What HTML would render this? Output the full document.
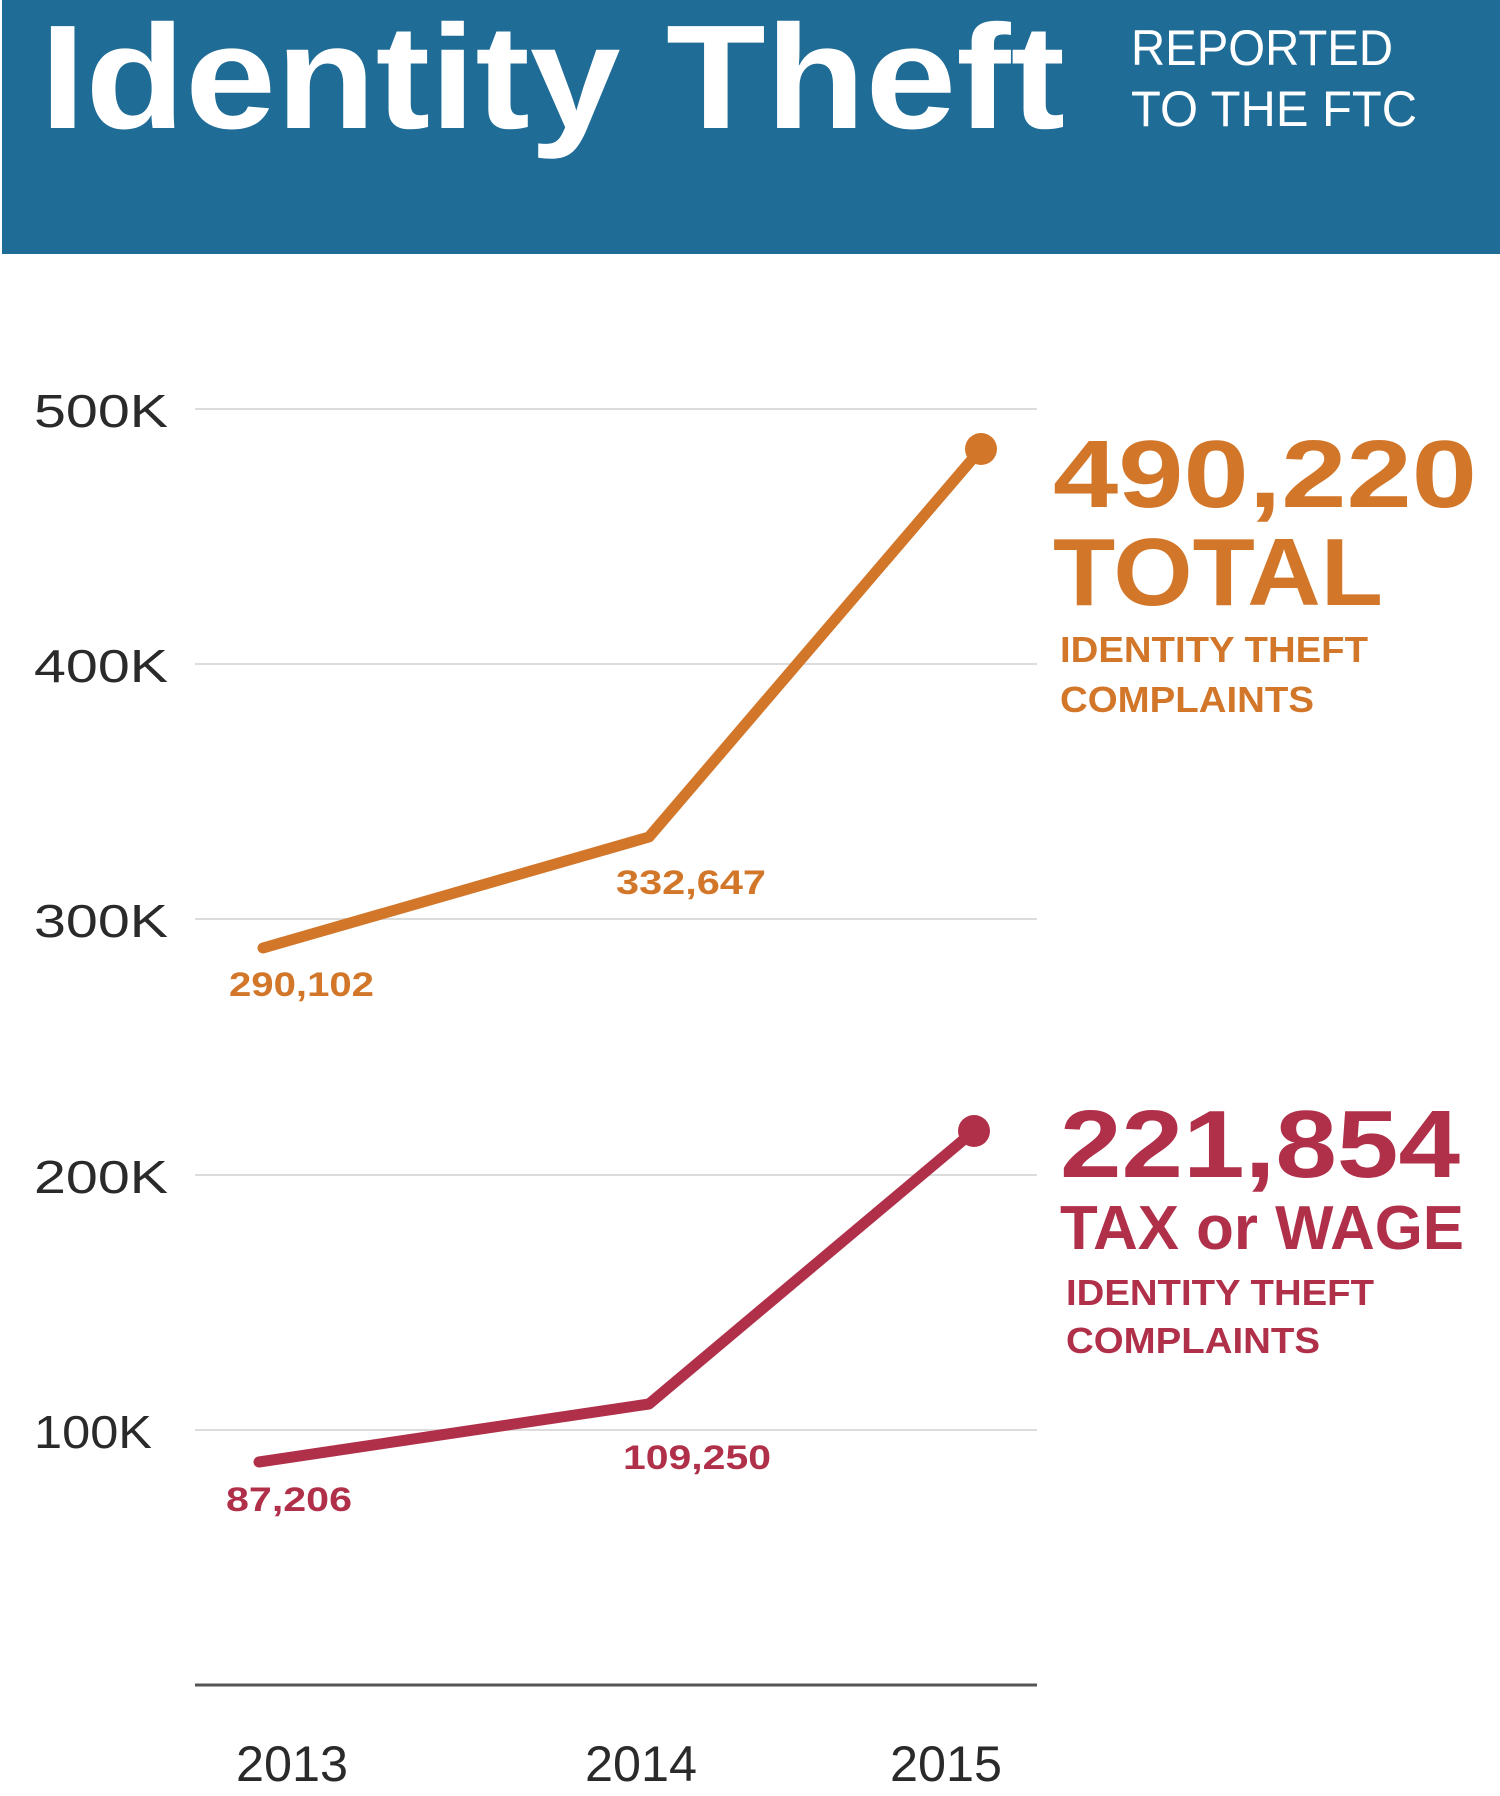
<!DOCTYPE html>
<html><head><meta charset="utf-8"><style>
html,body{margin:0;padding:0;background:#fff;}
svg{display:block;}
text{font-family:"Liberation Sans",sans-serif;}
</style></head><body>
<svg width="1500" height="1796" viewBox="0 0 1500 1796" xmlns="http://www.w3.org/2000/svg">
<rect x="2" y="0" width="1498" height="254" fill="#1f6c97"/>
<text x="40" y="128" font-size="148" font-weight="bold" fill="#fff" textLength="1025" lengthAdjust="spacingAndGlyphs">Identity Theft</text>
<text x="1131" y="65" font-size="50" fill="#fff" textLength="262" lengthAdjust="spacingAndGlyphs">REPORTED</text>
<text x="1131" y="126" font-size="50" fill="#fff" textLength="286" lengthAdjust="spacingAndGlyphs">TO THE FTC</text>
<g stroke="#dcdcdc" stroke-width="2">
<line x1="195" y1="409" x2="1037" y2="409"/>
<line x1="195" y1="664" x2="1037" y2="664"/>
<line x1="195" y1="919" x2="1037" y2="919"/>
<line x1="195" y1="1175" x2="1037" y2="1175"/>
<line x1="195" y1="1430" x2="1037" y2="1430"/>
</g>
<line x1="195" y1="1685" x2="1037" y2="1685" stroke="#555" stroke-width="3"/>
<g font-size="46" fill="#2a2a2a">
<text x="34" y="427" textLength="134" lengthAdjust="spacingAndGlyphs">500K</text>
<text x="34" y="682" textLength="134" lengthAdjust="spacingAndGlyphs">400K</text>
<text x="34" y="937" textLength="134" lengthAdjust="spacingAndGlyphs">300K</text>
<text x="34" y="1193" textLength="134" lengthAdjust="spacingAndGlyphs">200K</text>
<text x="34" y="1448" textLength="118" lengthAdjust="spacingAndGlyphs">100K</text>
</g>
<g font-size="50" fill="#2a2a2a">
<text x="236" y="1781" textLength="112" lengthAdjust="spacingAndGlyphs">2013</text>
<text x="585" y="1781" textLength="112" lengthAdjust="spacingAndGlyphs">2014</text>
<text x="890" y="1781" textLength="112" lengthAdjust="spacingAndGlyphs">2015</text>
</g>
<polyline points="263,948 649,837 981,449" fill="none" stroke="#d2762a" stroke-width="11" stroke-linejoin="round" stroke-linecap="round"/>
<circle cx="981" cy="449" r="16" fill="#d2762a"/>
<polyline points="259,1462 649,1404 974,1131" fill="none" stroke="#b0304a" stroke-width="11" stroke-linejoin="round" stroke-linecap="round"/>
<circle cx="974" cy="1131" r="16" fill="#b0304a"/>
<g font-weight="bold" fill="#d2762a">
<text x="229" y="996" font-size="34" textLength="145" lengthAdjust="spacingAndGlyphs">290,102</text>
<text x="616" y="894" font-size="34" textLength="150" lengthAdjust="spacingAndGlyphs">332,647</text>
<text x="1053" y="507" font-size="96" textLength="424" lengthAdjust="spacingAndGlyphs">490,220</text>
<text x="1053" y="605" font-size="96" textLength="330" lengthAdjust="spacingAndGlyphs">TOTAL</text>
<text x="1060" y="662" font-size="36" textLength="308" lengthAdjust="spacingAndGlyphs">IDENTITY THEFT</text>
<text x="1060" y="712" font-size="36" textLength="254" lengthAdjust="spacingAndGlyphs">COMPLAINTS</text>
</g>
<g font-weight="bold" fill="#b0304a">
<text x="226" y="1511" font-size="34" textLength="126" lengthAdjust="spacingAndGlyphs">87,206</text>
<text x="623" y="1469" font-size="34" textLength="148" lengthAdjust="spacingAndGlyphs">109,250</text>
<text x="1060" y="1177" font-size="96" textLength="400" lengthAdjust="spacingAndGlyphs">221,854</text>
<text x="1060" y="1249" font-size="62" textLength="404" lengthAdjust="spacingAndGlyphs">TAX or WAGE</text>
<text x="1066" y="1305" font-size="36" textLength="308" lengthAdjust="spacingAndGlyphs">IDENTITY THEFT</text>
<text x="1066" y="1353" font-size="36" textLength="254" lengthAdjust="spacingAndGlyphs">COMPLAINTS</text>
</g>
</svg>
</body></html>
